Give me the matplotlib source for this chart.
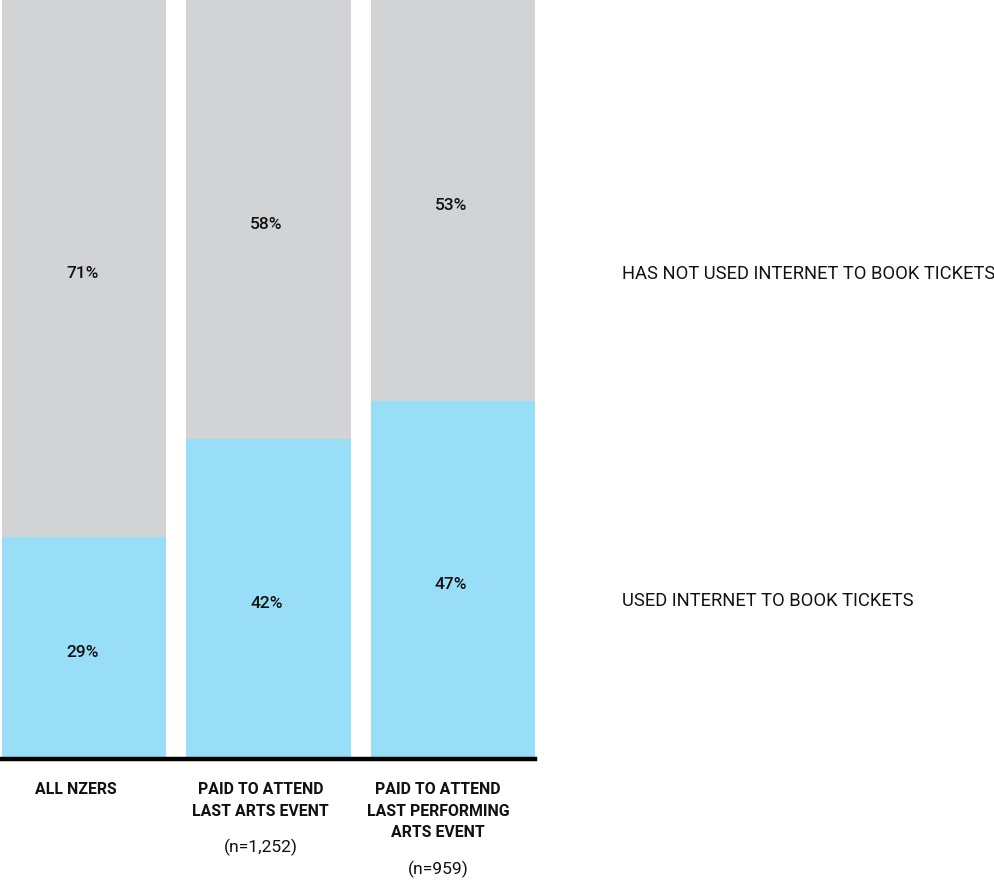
import matplotlib
matplotlib.use("Agg")
import matplotlib.pyplot as plt
from matplotlib.transforms import offset_copy

plt.rcParams['font.family'] = ['Roboto', 'DejaVu Sans']

categories = ["ALL NZERS", "PAID TO ATTEND\nLAST ARTS EVENT", "PAID TO ATTEND\nLAST PERFORMING\nARTS EVENT"]
sample_sizes = ["", "(n=1,252)", "(n=959)"]
used_internet = [29, 42, 47]
not_used_internet = [71, 58, 53]
series_names = ["USED INTERNET TO BOOK TICKETS", "HAS NOT USED INTERNET TO BOOK TICKETS"]

BLUE = "#99DEF7"
GREY = "#D2D3D5"

W, H = 994, 882
PX = 0.72  # points per pixel at 100 dpi
fig = plt.figure(figsize=(W / 100, H / 100), dpi=100)
ax = fig.add_axes([2 / W, (H - 757) / H, 533 / W, 757 / H])

x = list(range(len(categories)))
width = 0.891
ax.bar(x, used_internet, width=width, color=BLUE, linewidth=0)
ax.bar(x, not_used_internet, width=width, bottom=used_internet, color=GREY, linewidth=0)

ax.set_xlim(-width / 2, len(categories) - 1 + width / 2)
ax.set_ylim(0, 100)
ax.axis("off")
ax.axhline(-0.33, color="black", lw=3.2, clip_on=False)

# Percentage labels in the middle of each segment
pct_tr = offset_copy(ax.transData, fig=fig, x=-2 * PX, y=-5 * PX, units="points")
for i in x:
    u, n = used_internet[i], not_used_internet[i]
    ax.text(i, u / 2, f"{u}%", transform=pct_tr, ha="center", va="center",
            fontsize=12.5, fontweight="medium", color="#111111")
    ax.text(i, u + n / 2, f"{n}%", transform=pct_tr, ha="center", va="center",
            fontsize=12.5, fontweight="medium", color="#111111")

# Category labels under the baseline
shifts = [-8, -8, -15]
for i in x:
    tr = offset_copy(ax.transData, fig=fig, x=shifts[i] * PX, y=-25 * PX, units="points")
    ax.text(i, 0, categories[i], transform=tr, ha="center", va="top",
            fontsize=11.4, fontweight="bold", linespacing=1.55, color="#111111")
    if sample_sizes[i]:
        nlines = categories[i].count("\n") + 1
        tr2 = offset_copy(ax.transData, fig=fig, x=shifts[i] * PX,
                          y=-(90 + 22 * (nlines - 2)) * PX, units="points")
        ax.text(i, 0, sample_sizes[i], transform=tr2, ha="center", va="center",
                fontsize=12.6, color="#111111")

# Series names to the right of the bars
fig.text(622 / W, 1 - 601 / H, series_names[0], ha="left", va="center", fontsize=13.2, color="#111111")
fig.text(622 / W, 1 - 274 / H, series_names[1], ha="left", va="center", fontsize=13.2, color="#111111")

fig.savefig("out.png", dpi=100, facecolor="white")
